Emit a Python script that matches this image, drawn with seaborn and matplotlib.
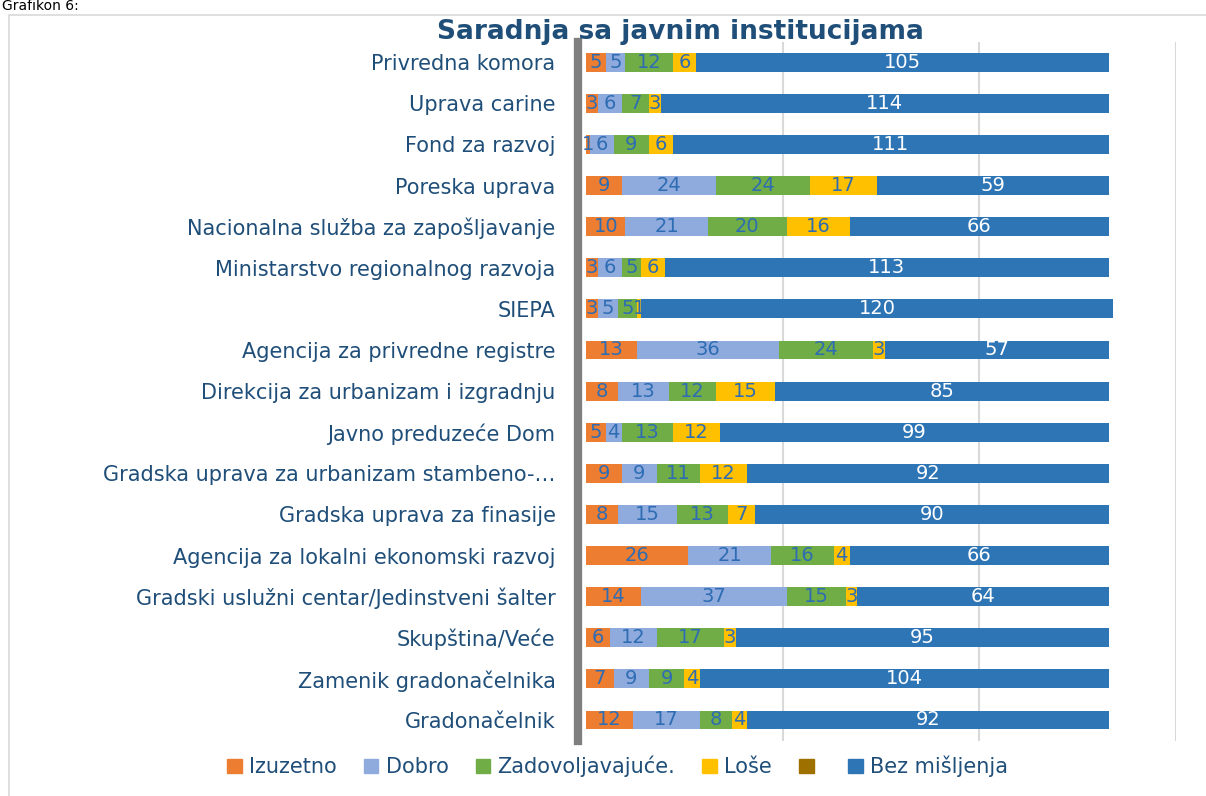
import matplotlib.pyplot as plt
import matplotlib.patches as mpatches
import numpy as np
import pandas as pd
import seaborn as sns

categories = ['Privredna komora', 'Uprava carine', 'Fond za razvoj', 'Poreska uprava',
              'Nacionalna služba za zapošljavanje', 'Ministarstvo regionalnog razvoja', 'SIEPA',
              'Agencija za privredne registre', 'Direkcija za urbanizam i izgradnju',
              'Javno preduzeće Dom', 'Gradska uprava za urbanizam stambeno-…',
              'Gradska uprava za finasije', 'Agencija za lokalni ekonomski razvoj',
              'Gradski uslužni centar/Jedinstveni šalter', 'Skupština/Veće',
              'Zamenik gradonačelnika', 'Gradonačelnik']
izuzetno = [5, 3, 1, 9, 10, 3, 3, 13, 8, 5, 9, 8, 26, 14, 6, 7, 12]
dobro = [5, 6, 6, 24, 21, 6, 5, 36, 13, 4, 9, 15, 21, 37, 12, 9, 17]
zadovoljavajuce = [12, 7, 9, 24, 20, 5, 5, 24, 12, 13, 11, 13, 16, 15, 17, 9, 8]
lose = [6, 3, 6, 17, 16, 6, 1, 3, 15, 12, 12, 7, 4, 3, 3, 4, 4]
bez_misljenja = [105, 114, 111, 59, 66, 113, 120, 57, 85, 99, 92, 90, 66, 64, 95, 104, 92]

series_names = ['Izuzetno', 'Dobro', 'Zadovoljavajuće.', 'Loše', 'Bez mišljenja']
series_vals = [izuzetno, dobro, zadovoljavajuce, lose, bez_misljenja]
colors = ['#ED7D31', '#8FAADC', '#70AD47', '#FFC000', '#2E75B6']
empty_color = '#9E7000'

sns.set_theme(style='white')
plt.rcParams['font.family'] = ['DejaVu Sans']

df = pd.DataFrame(dict(zip(series_names, series_vals)), index=categories)
cum = df.cumsum(axis=1)

fig = plt.figure(figsize=(12.06, 7.96), dpi=100)
ax = fig.add_axes([0.486, 0.0697, 0.489, 0.878])

# stacked bars: draw cumulative totals from the largest down
for name, col in reversed(list(zip(series_names, colors))):
    d = pd.DataFrame({'cat': categories, 'val': cum[name].values})
    sns.barplot(data=d, x='val', y='cat', order=categories, orient='h', color=col,
                width=0.46, saturation=1, ax=ax, edgecolor='none')

# segment labels
for i, cat in enumerate(categories):
    left = 0
    for j, name in enumerate(series_names):
        v = df.loc[cat, name]
        tc = 'white' if name == 'Bez mišljenja' else '#2E6DB4'
        ax.text(left + v / 2, i, str(v), ha='center', va='center', fontsize=14, color=tc)
        left += v

ax.set_xlim(0, 150)
ax.set_ylim(len(categories) - 0.5, -0.5)
ax.set_xticks([50, 100, 150])
ax.xaxis.grid(True, color='#D9D9D9', lw=1.5)
ax.set_axisbelow(True)
ax.tick_params(axis='x', labelbottom=False, length=0)
ax.tick_params(axis='y', length=0, pad=16, labelsize=15, labelcolor='#1F4E79')
ax.set_xlabel('')
ax.set_ylabel('')
for s in ['top', 'right', 'bottom']:
    ax.spines[s].set_visible(False)
ax.spines['left'].set_color('#7F7F7F')
ax.spines['left'].set_linewidth(6)
ax.spines['left'].set_position(('outward', 6))

fig.text(0.564, 0.96, 'Saradnja sa javnim institucijama', ha='center', va='center',
         fontsize=19, fontweight='bold', color='#1F4E79')
fig.text(0.002, 1 - 13 / 796, 'Grafikon 6:', ha='left', va='bottom', fontsize=10, color='black')

handles = [mpatches.Patch(color=c, label=n) for n, c in zip(series_names[:4], colors[:4])]
handles.append(mpatches.Patch(color=empty_color, label=''))
handles.append(mpatches.Patch(color=colors[4], label=series_names[4]))
leg = fig.legend(handles=handles, loc='center', bbox_to_anchor=(0.512, 0.037), ncol=6,
                 frameon=False, fontsize=15, handlelength=0.7, handleheight=0.7,
                 handletextpad=0.35, columnspacing=1.3)
for t in leg.get_texts():
    t.set_color('#1F4E79')

fig.add_artist(mpatches.Rectangle((9 / 1206, -0.01), 1.0, 1 - 15 / 796 + 0.01, fill=False,
                                  ec='#D9D9D9', lw=1.2, transform=fig.transFigure))

fig.savefig('out.png', dpi=100)
